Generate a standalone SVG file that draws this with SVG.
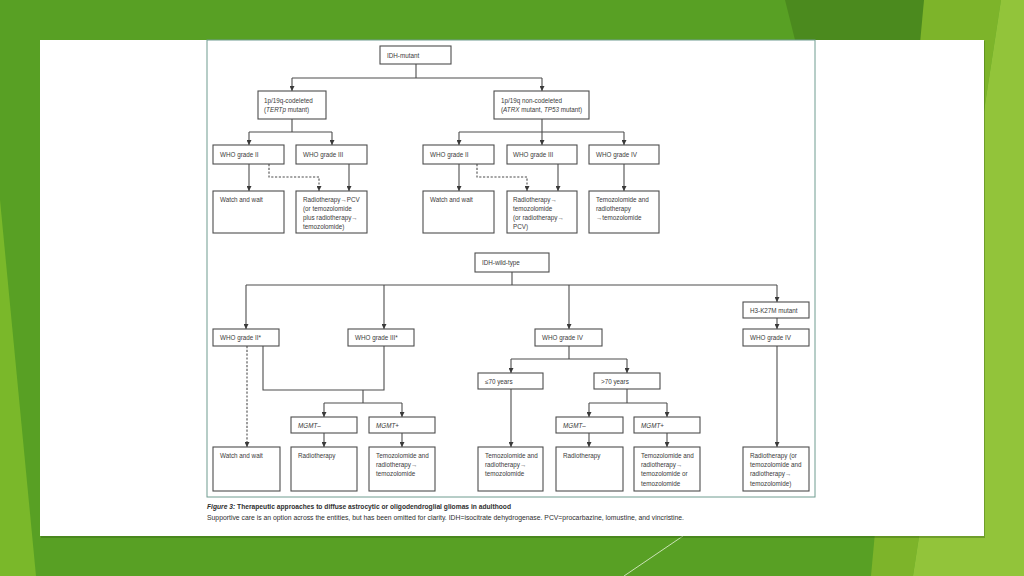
<svg xmlns="http://www.w3.org/2000/svg" width="1024" height="576" viewBox="0 0 1024 576">
<defs>
<style>
.box{fill:#fff;stroke:#4d4d4d;stroke-width:1.1}
.t{font-family:"Liberation Sans",Arial,sans-serif;font-size:6.3px;fill:#3a3a3a}
.i{font-style:italic}
.ln{fill:none;stroke:#4d4d4d;stroke-width:1.1}
.ar{fill:none;stroke:#4d4d4d;stroke-width:1.1;marker-end:url(#ah)}
.dash{stroke-dasharray:2.2 1.6}
.cap{font-family:"Liberation Sans",Arial,sans-serif;fill:#2e2e2e}
</style>
<marker id="ah" viewBox="0 0 6 6" refX="6" refY="3" markerWidth="5" markerHeight="5" markerUnits="userSpaceOnUse" orient="auto">
<path d="M0,0 L6,3 L0,6 z" fill="#3a3a3a"/>
</marker>
</defs>

<g id="background">
<rect x="0" y="0" width="1024" height="576" fill="#58a024"/>
<polygon points="785,0 924,0 935,60 800,60" fill="#4b8a1e"/>
<polygon points="924,0 1001,0 913,576 871,576" fill="#7db42a"/>
<polygon points="1001,0 1024,0 1024,576 913,576" fill="#92c43a"/>
<polygon points="0,200 36,576 0,576" fill="#7ab82a"/>
<line x1="683" y1="536" x2="624" y2="576" stroke="#e8f3dc" stroke-width="0.8"/>
<rect x="41" y="41" width="944" height="497" fill="#2f5a12" opacity="0.35"/>
<rect x="40" y="40" width="944" height="496" fill="#ffffff"/>
<rect x="207" y="40" width="608" height="457" fill="none" stroke="#6f9c90" stroke-width="1"/>
</g>

<g id="connectors">
<path class="ln" d="M416 64 V78 M292 78 H542"/>
<path class="ar" d="M292 78 V91"/>
<path class="ar" d="M542 78 V91"/>
<path class="ln" d="M292 119 V132 M249 132 H332"/>
<path class="ar" d="M249 132 V145"/>
<path class="ar" d="M332 132 V145"/>
<path class="ln" d="M542 119 V132 M459 132 H624"/>
<path class="ar" d="M459 132 V145"/>
<path class="ar" d="M542 132 V145"/>
<path class="ar" d="M624 132 V145"/>
<path class="ar" d="M249 164 V191"/>
<path class="ar dash" d="M269 164 V177 H319 V191"/>
<path class="ar" d="M349 164 V191"/>
<path class="ar" d="M459 164 V191"/>
<path class="ar dash" d="M477 164 V177 H527 V191"/>
<path class="ar" d="M558 164 V191"/>
<path class="ar" d="M624 164 V191"/>

<path class="ln" d="M512 272 V285 M246 285 H777"/>
<path class="ar" d="M246 285 V329"/>
<path class="ar" d="M384 285 V329"/>
<path class="ar" d="M569 285 V329"/>
<path class="ar" d="M777 285 V302"/>
<path class="ar dash" d="M247 346 V447"/>
<path class="ln" d="M263 346 V390 H384 V346 M363 390 V403 M324 403 H402"/>
<path class="ar" d="M324 403 V417"/>
<path class="ar" d="M402 403 V417"/>
<path class="ar" d="M324 433 V447"/>
<path class="ar" d="M402 433 V447"/>
<path class="ln" d="M569 346 V359 M511 359 H627"/>
<path class="ar" d="M511 359 V373"/>
<path class="ar" d="M627 359 V373"/>
<path class="ar" d="M511 389 V447"/>
<path class="ln" d="M627 389 V403 M589 403 H667"/>
<path class="ar" d="M589 403 V417"/>
<path class="ar" d="M667 403 V417"/>
<path class="ar" d="M589 433 V447"/>
<path class="ar" d="M667 433 V447"/>
<path class="ar" d="M777 318 V329"/>
<path class="ar" d="M777 346 V447"/>
</g>

<g id="n-idh-mutant"><rect class="box" x="380" y="46" width="71" height="18"/><text class="t" x="387" y="57.5">IDH-mutant</text></g>
<g id="n-codeleted"><rect class="box" x="258" y="91" width="68" height="28"/><text class="t" x="264" y="103">1p/19q-codeleted</text><text class="t" x="264" y="112.3">(<tspan class="i">TERTp</tspan> mutant)</text></g>
<g id="n-noncodeleted"><rect class="box" x="494" y="91" width="95" height="28"/><text class="t" x="501" y="103">1p/19q non-codeleted</text><text class="t" x="501" y="112.3">(<tspan class="i">ATRX</tspan> mutant, <tspan class="i">TP53</tspan> mutant)</text></g>

<g id="n-a-who2"><rect class="box" x="213" y="145" width="71" height="19"/><text class="t" x="220" y="157">WHO grade II</text></g>
<g id="n-a-who3"><rect class="box" x="296" y="145" width="71" height="19"/><text class="t" x="303" y="157">WHO grade III</text></g>
<g id="n-b-who2"><rect class="box" x="423" y="145" width="71" height="19"/><text class="t" x="430" y="157">WHO grade II</text></g>
<g id="n-b-who3"><rect class="box" x="507" y="145" width="70" height="19"/><text class="t" x="513" y="157">WHO grade III</text></g>
<g id="n-b-who4"><rect class="box" x="589" y="145" width="70" height="19"/><text class="t" x="596" y="157">WHO grade IV</text></g>

<g id="n-a-watch"><rect class="box" x="213" y="191" width="71" height="42"/><text class="t" x="220" y="201.5">Watch and wait</text></g>
<g id="n-a-rad"><rect class="box" x="296" y="191" width="71" height="42"/><text class="t" x="303" y="201.5">Radiotherapy→PCV</text><text class="t" x="303" y="210.7">(or temozolomide</text><text class="t" x="303" y="219.9">plus radiotherapy→</text><text class="t" x="303" y="229.1">temozolomide)</text></g>
<g id="n-b-watch"><rect class="box" x="423" y="191" width="71" height="42"/><text class="t" x="430" y="201.5">Watch and wait</text></g>
<g id="n-b-rad"><rect class="box" x="507" y="191" width="70" height="42"/><text class="t" x="513" y="201.5">Radiotherapy→</text><text class="t" x="513" y="210.7">temozolomide</text><text class="t" x="513" y="219.9">(or radiotherapy→</text><text class="t" x="513" y="229.1">PCV)</text></g>
<g id="n-b-tem"><rect class="box" x="589" y="191" width="70" height="42"/><text class="t" x="596" y="201.5">Temozolomide and</text><text class="t" x="596" y="210.7">radiotherapy</text><text class="t" x="596" y="219.9">→temozolomide</text></g>

<g id="n-idh-wt"><rect class="box" x="475" y="253" width="74" height="19"/><text class="t" x="482" y="265">IDH-wild-type</text></g>
<g id="n-w-who2"><rect class="box" x="213" y="329" width="66" height="17"/><text class="t" x="220" y="340">WHO grade II*</text></g>
<g id="n-w-who3"><rect class="box" x="348" y="329" width="66" height="17"/><text class="t" x="355" y="340">WHO grade III*</text></g>
<g id="n-w-who4"><rect class="box" x="535" y="329" width="67" height="17"/><text class="t" x="542" y="340">WHO grade IV</text></g>
<g id="n-h3"><rect class="box" x="743" y="302" width="66" height="16"/><text class="t" x="750" y="312.5">H3-K27M mutant</text></g>
<g id="n-h-who4"><rect class="box" x="743" y="329" width="66" height="17"/><text class="t" x="750" y="340">WHO grade IV</text></g>
<g id="n-le70"><rect class="box" x="478" y="373" width="65" height="16"/><text class="t" x="485" y="383.5">≤70 years</text></g>
<g id="n-gt70"><rect class="box" x="594" y="373" width="66" height="16"/><text class="t" x="601" y="383.5">&gt;70 years</text></g>
<g id="n-w-mgmtm"><rect class="box" x="291" y="417" width="66" height="16"/><text class="t" x="298" y="427.5"><tspan class="i">MGMT</tspan>–</text></g>
<g id="n-w-mgmtp"><rect class="box" x="369" y="417" width="66" height="16"/><text class="t" x="376" y="427.5"><tspan class="i">MGMT</tspan>+</text></g>
<g id="n-r-mgmtm"><rect class="box" x="556" y="417" width="67" height="16"/><text class="t" x="563" y="427.5"><tspan class="i">MGMT</tspan>–</text></g>
<g id="n-r-mgmtp"><rect class="box" x="634" y="417" width="66" height="16"/><text class="t" x="641" y="427.5"><tspan class="i">MGMT</tspan>+</text></g>

<g id="n-w-watch"><rect class="box" x="213" y="447" width="67" height="44"/><text class="t" x="220" y="458">Watch and wait</text></g>
<g id="n-w-rad"><rect class="box" x="291" y="447" width="66" height="44"/><text class="t" x="298" y="458">Radiotherapy</text></g>
<g id="n-w-tem"><rect class="box" x="369" y="447" width="66" height="44"/><text class="t" x="376" y="458">Temozolomide and</text><text class="t" x="376" y="467.2">radiotherapy→</text><text class="t" x="376" y="476.4">temozolomide</text></g>
<g id="n-y-tem"><rect class="box" x="478" y="447" width="65" height="44"/><text class="t" x="485" y="458">Temozolomide and</text><text class="t" x="485" y="467.2">radiotherapy→</text><text class="t" x="485" y="476.4">temozolomide</text></g>
<g id="n-r-rad"><rect class="box" x="556" y="447" width="67" height="44"/><text class="t" x="563" y="458">Radiotherapy</text></g>
<g id="n-r-tem"><rect class="box" x="634" y="447" width="66" height="44"/><text class="t" x="641" y="458">Temozolomide and</text><text class="t" x="641" y="467.2">radiotherapy→</text><text class="t" x="641" y="476.4">temozolomide or</text><text class="t" x="641" y="485.6">temozolomide</text></g>
<g id="n-h-rad"><rect class="box" x="743" y="447" width="66" height="44"/><text class="t" x="750" y="458">Radiotherapy (or</text><text class="t" x="750" y="467.2">temozolomide and</text><text class="t" x="750" y="476.4">radiotherapy→</text><text class="t" x="750" y="485.6">temozolomide)</text></g>

<g id="caption">
<text class="cap" x="207" y="509" font-size="7" font-weight="bold" textLength="304" lengthAdjust="spacingAndGlyphs"><tspan font-style="italic">Figure 3:</tspan> Therapeutic approaches to diffuse astrocytic or oligodendroglial gliomas in adulthood</text>
<text class="cap" x="207" y="520" font-size="6.8" fill="#555" textLength="477" lengthAdjust="spacingAndGlyphs">Supportive care is an option across the entities, but has been omitted for clarity. IDH=isocitrate dehydrogenase. PCV=procarbazine, lomustine, and vincristine.</text>
</g>
</svg>
